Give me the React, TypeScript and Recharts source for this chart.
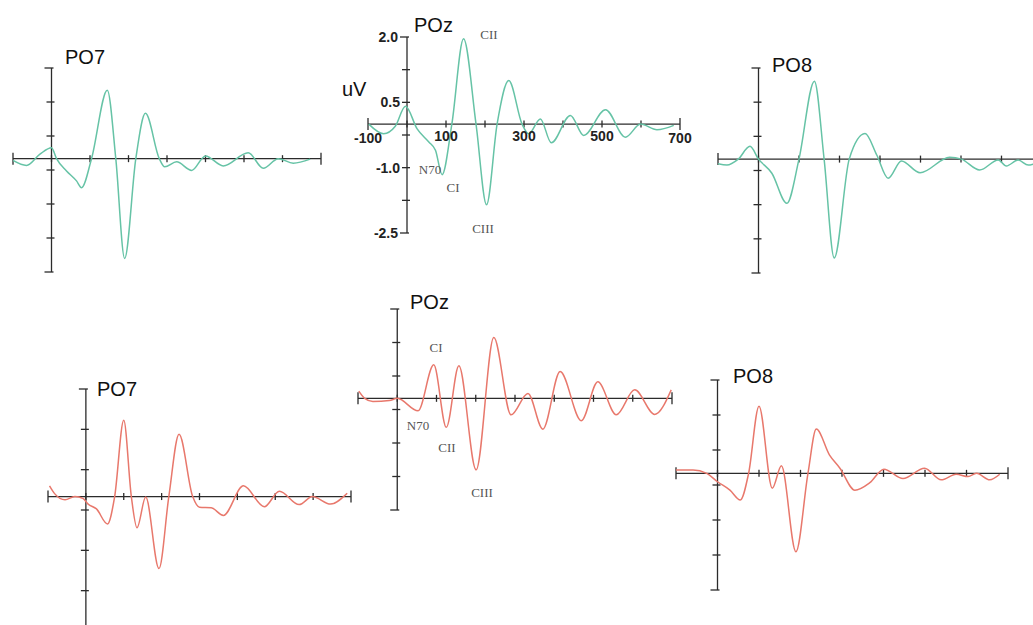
import { LineChart, Line, XAxis, YAxis, ReferenceLine } from "recharts"

// time (ms) / amplitude (uV) pairs
const po7TopT = [-100, -65, -30, 0, 13, 39, 65, 78, 104, 145, 167, 190, 219, 244, 280, 294, 325, 364, 400, 446, 511, 550, 589, 628, 672]
const po7TopV = [-0.04, -0.15, 0.1, 0.24, 0.0, -0.27, -0.49, -0.64, 0, 1.51, 0, -2.2, 0, 1.0, 0, -0.18, -0.07, -0.26, 0.06, -0.16, 0.13, -0.21, 0, -0.1, -0.01]

const pozTopT = [-98, -60, -30, -4, 26, 56, 73, 90, 115, 145, 177, 204, 231, 261, 295, 312, 342, 370, 419, 453, 509, 560, 599, 641, 684]
const pozTopV = [0, -0.22, -0.05, 0.41, -0.11, -0.41, -0.6, -1.16, 0, 1.96, 0, -1.85, 0, 1.0, 0, -0.22, 0.12, -0.43, 0.2, -0.26, 0.33, -0.3, 0, -0.13, -0.03]

const po8TopT = [-100, -78, -50, -21, 0, 33, 70, 100, 138, 162, 187, 224, 263, 292, 320, 353, 399, 472, 501, 546, 592, 612, 641, 666, 678]
const po8TopV = [-0.1, -0.13, 0.0, 0.28, 0, -0.31, -0.97, 0, 1.71, 0, -2.17, 0, 0.56, 0.09, -0.42, -0.04, -0.3, 0.04, 0, -0.24, -0.02, -0.15, -0.02, -0.13, -0.11]

const po7BotT = [-96, -82, -55, -29, -7, 6, 28, 57, 76, 100, 120, 135, 158, 193, 219, 246, 282, 300, 331, 363, 416, 471, 511, 563, 598, 646, 690]
const po7BotV = [0.2, 0.05, -0.06, 0.0, -0.04, -0.14, -0.23, -0.51, 0, 1.42, 0, -0.58, -0.01, -1.34, 0, 1.16, 0, -0.2, -0.21, -0.35, 0.2, -0.19, 0.1, -0.15, 0, -0.14, 0.06]

const pozBotT = [-98, -83, -62, -20, 0, 53, 93, 125, 157, 201, 246, 290, 333, 371, 415, 469, 511, 558, 605, 656, 698]
const pozBotV = [0.16, 0, -0.07, -0.05, 0, -0.28, 0.75, -0.65, 0.73, -1.6, 1.36, -0.37, 0.11, -0.69, 0.6, -0.5, 0.37, -0.37, 0.19, -0.36, 0.19]

const po8BotT = [-100, -59, -26, 0, 30, 55, 75, 100, 132, 154, 189, 218, 238, 270, 295, 331, 367, 401, 447, 499, 539, 575, 604, 624, 656, 680]
const po8BotV = [0.07, 0.07, 0, -0.18, -0.36, -0.57, 0, 1.44, -0.32, 0.16, -1.68, 0, 0.95, 0.39, 0.11, -0.36, -0.2, 0.09, -0.11, 0.11, -0.14, -0.02, -0.07, 0, -0.14, -0.02]

const xTicks = [-100, 0, 100, 200, 300, 400, 500, 600, 700]
const yTicks = [2.0, 1.25, 0.5, -0.25, -1.0, -1.75, -2.5]
const pozXLabels = [-100, 100, 300, 500, 700]
const pozYLabels = [2.0, 0.5, -1.0, -2.5]

const GREEN = "#66c3a6"
const RED = "#e8786c"
const AXIS = "#2b2b2b"
const M = 30

interface PanelProps {
  x: number
  y: number
  w: number
  h: number
  t: number[]
  v: number[]
  color: string
  labels?: boolean
}

function Panel({ x, y, w, h, t, v, color, labels }: PanelProps) {
  const data = t.map((tt, i) => ({ t: tt, v: v[i] }))
  const msPx = 800 / w
  const uvPx = 4.5 / h
  const lbl = { fontSize: 14, fill: "#222", fontFamily: "Liberation Sans", fontWeight: 600 }

  return (
    <div style={{ position: "absolute", left: x - M, top: y - M }}>
      <LineChart width={w + 2 * M} height={h + 2 * M} data={data} margin={{ top: M, right: M, bottom: M, left: M }}>
        <XAxis type="number" dataKey="t" domain={[-100, 700]} allowDataOverflow hide />
        <YAxis type="number" domain={[-2.5, 2]} allowDataOverflow hide />
        <ReferenceLine y={0} stroke={AXIS} strokeWidth={1.3} />
        <ReferenceLine x={0} stroke={AXIS} strokeWidth={1.3} />
        {xTicks.map((tk) => {
          const end = tk === -100 || tk === 700
          const hh = (end ? 6 : 3.5) * uvPx
          return (
            <ReferenceLine
              key={"x" + tk}
              segment={[{ x: tk, y: -hh }, { x: tk, y: hh }]}
              stroke={AXIS}
              strokeWidth={1.3}
              label={labels && pozXLabels.includes(tk) ? { value: String(tk), position: "bottom", offset: 3, ...lbl } : undefined}
            />
          )
        })}
        {yTicks.map((tk) => {
          const end = tk === 2.0 || tk === -2.5
          const left = (end ? 7 : 5) * msPx
          const right = (end ? 2 : 3) * msPx
          return (
            <ReferenceLine
              key={"y" + tk}
              segment={[{ x: -left, y: tk }, { x: right, y: tk }]}
              stroke={AXIS}
              strokeWidth={1.3}
              label={labels && pozYLabels.includes(tk) ? { value: tk.toFixed(1), position: "left", offset: 2, ...lbl } : undefined}
            />
          )
        })}
        <Line type="monotone" dataKey="v" stroke={color} strokeWidth={1.5} dot={false} isAnimationActive={false} />
      </LineChart>
    </div>
  )
}

function Title({ x, y, text }: { x: number; y: number; text: string }) {
  return (
    <div style={{ position: "absolute", left: x, top: y, transform: "translateY(-50%)", fontSize: 20, lineHeight: "20px", color: "#111" }}>
      {text}
    </div>
  )
}

function Note({ x, y, text }: { x: number; y: number; text: string }) {
  return (
    <div style={{ position: "absolute", left: x, top: y, transform: "translate(-50%,-50%)", fontFamily: "Liberation Serif", fontSize: 13, lineHeight: "13px", color: "#555" }}>
      {text}
    </div>
  )
}

export default function App() {
  return (
    <div style={{ position: "absolute", left: 0, top: 0, width: 1033, height: 625, overflow: "hidden", background: "#fff", fontFamily: "Liberation Sans" }}>
      <Panel x={13} y={68} w={308} h={204} t={po7TopT} v={po7TopV} color={GREEN} />
      <Panel x={368} y={37} w={312} h={196} t={pozTopT} v={pozTopV} color={GREEN} labels />
      <Panel x={718} y={68} w={324} h={205} t={po8TopT} v={po8TopV} color={GREEN} />
      <Panel x={48} y={389} w={303} h={242} t={po7BotT} v={po7BotV} color={RED} />
      <Panel x={358} y={309} w={314} h={201} t={pozBotT} v={pozBotV} color={RED} />
      <Panel x={676} y={380} w={332} h={210} t={po8BotT} v={po8BotV} color={RED} />

      <Title x={65} y={57} text="PO7" />
      <Title x={414} y={25} text="POz" />
      <Title x={772} y={65} text="PO8" />
      <Title x={97} y={389} text="PO7" />
      <Title x={410} y={302} text="POz" />
      <Title x={733} y={376} text="PO8" />
      <Title x={342} y={89} text="uV" />

      <Note x={489} y={34} text="CII" />
      <Note x={430} y={169} text="N70" />
      <Note x={453} y={187} text="CI" />
      <Note x={483} y={228} text="CIII" />
      <Note x={436} y={347} text="CI" />
      <Note x={418} y={425} text="N70" />
      <Note x={447} y={447} text="CII" />
      <Note x={482} y={492} text="CIII" />
    </div>
  )
}
